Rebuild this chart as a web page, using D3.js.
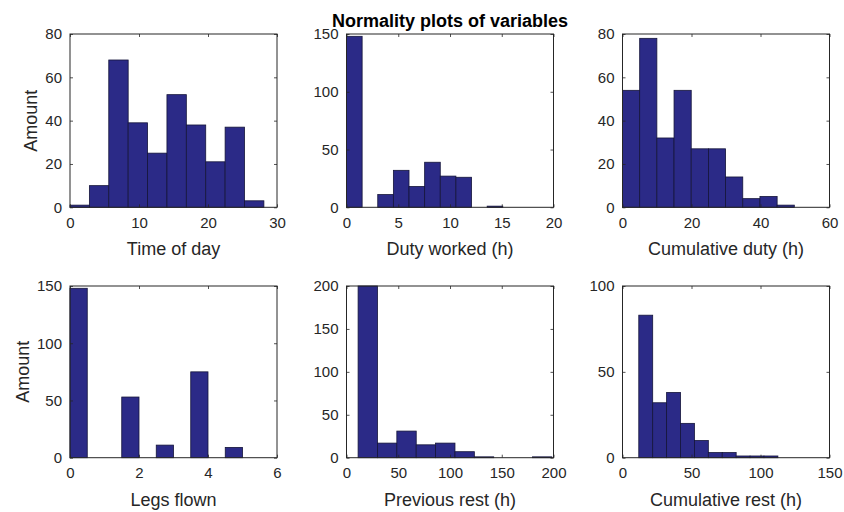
<!DOCTYPE html>
<html>
<head>
<meta charset="utf-8">
<script src="https://cdn.jsdelivr.net/npm/d3@7/dist/d3.min.js"></script>
<style>
  html, body { margin: 0; padding: 0; background: #ffffff; }
  svg { display: block; font-family: "Liberation Sans", Arial, Helvetica, sans-serif; }
</style>
</head>
<body>
<svg id="chart" width="844" height="512"></svg>
<script>
// ---- Histogram data: bin edges and counts per variable ----
const timeOfDayEdges   = [0, 2.81, 5.62, 8.43, 11.24, 14.05, 16.86, 19.67, 22.48, 25.29, 28.1];
const timeOfDayCounts  = [1, 10, 68, 39, 25, 52, 38, 21, 37, 3];

const dutyWorkedEdges  = [0, 1.51, 3.02, 4.53, 6.04, 7.55, 9.06, 10.57, 12.08, 13.59, 15.1];
const dutyWorkedCounts = [148, 0, 11, 32, 18, 39, 27, 26, 0, 1];

const cumDutyEdges     = [0, 4.98, 9.96, 14.94, 19.92, 24.9, 29.88, 34.86, 39.84, 44.82, 49.8];
const cumDutyCounts    = [54, 78, 32, 54, 27, 27, 14, 4, 5, 1];

const legsFlownEdges   = [0, 0.5, 1, 1.5, 2, 2.5, 3, 3.5, 4, 4.5, 5];
const legsFlownCounts  = [148, 0, 0, 53, 0, 11, 0, 75, 0, 9];

const prevRestEdges    = [11.2, 29.92, 48.64, 67.36, 86.08, 104.8, 123.52, 142.24, 160.96, 179.68, 198.4];
const prevRestCounts   = [200, 17, 31, 15, 17, 7, 1, 0, 0, 1];

const cumRestEdges     = [11.8, 21.88, 31.96, 42.04, 52.12, 62.2, 72.28, 82.36, 92.44, 102.52, 112.6];
const cumRestCounts    = [83, 32, 38, 20, 10, 3, 3, 1, 1, 1];

// ---- Axis ticks ----
const timeOfDayXTicks  = [0, 10, 20, 30];
const timeOfDayYTicks  = [0, 20, 40, 60, 80];
const dutyWorkedXTicks = [0, 5, 10, 15, 20];
const dutyWorkedYTicks = [0, 50, 100, 150];
const cumDutyXTicks    = [0, 20, 40, 60];
const cumDutyYTicks    = [0, 20, 40, 60, 80];
const legsFlownXTicks  = [0, 2, 4, 6];
const legsFlownYTicks  = [0, 50, 100, 150];
const prevRestXTicks   = [0, 50, 100, 150, 200];
const prevRestYTicks   = [0, 50, 100, 150, 200];
const cumRestXTicks    = [0, 50, 100, 150];
const cumRestYTicks    = [0, 50, 100];

const xLabels = ["Time of day", "Duty worked (h)", "Cumulative duty (h)",
                 "Legs flown", "Previous rest (h)", "Cumulative rest (h)"];
const yLabel = "Amount";
const chartTitle = "Normality plots of variables";

const panels = [
  { edges: timeOfDayEdges,  counts: timeOfDayCounts,  xTicks: timeOfDayXTicks,  yTicks: timeOfDayYTicks },
  { edges: dutyWorkedEdges, counts: dutyWorkedCounts, xTicks: dutyWorkedXTicks, yTicks: dutyWorkedYTicks },
  { edges: cumDutyEdges,    counts: cumDutyCounts,    xTicks: cumDutyXTicks,    yTicks: cumDutyYTicks },
  { edges: legsFlownEdges,  counts: legsFlownCounts,  xTicks: legsFlownXTicks,  yTicks: legsFlownYTicks },
  { edges: prevRestEdges,   counts: prevRestCounts,   xTicks: prevRestXTicks,   yTicks: prevRestYTicks },
  { edges: cumRestEdges,    counts: cumRestCounts,    xTicks: cumRestXTicks,    yTicks: cumRestYTicks }
].map((p, i) => Object.assign(p, { xLabel: xLabels[i], row: Math.floor(i / 3), col: i % 3 }));

// ---- Layout ----
const colLeft = [70, 346.5, 622.5];
const plotW = 207;
const rowTop = [34, 286];
const rowH = [173.3, 171.7];

const ink = "#262626";
const barFill = "#2b2a87";
const barEdge = "#15153a";
const tickLen = 3;

const svg = d3.select("#chart");

panels.forEach(p => {
  const w = plotW, h = rowH[p.row];
  const g = svg.append("g")
    .attr("transform", `translate(${colLeft[p.col]},${rowTop[p.row]})`);

  const x = d3.scaleLinear()
    .domain([p.xTicks[0], p.xTicks[p.xTicks.length - 1]])
    .range([0, w]);
  const y = d3.scaleLinear()
    .domain([p.yTicks[0], p.yTicks[p.yTicks.length - 1]])
    .range([h, 0]);

  // bars
  g.append("g").selectAll("rect")
    .data(p.counts)
    .join("rect")
      .attr("x", (d, i) => x(p.edges[i]))
      .attr("width", (d, i) => x(p.edges[i + 1]) - x(p.edges[i]))
      .attr("y", d => y(d))
      .attr("height", d => y(0) - y(d))
      .attr("fill", barFill)
      .attr("stroke", barEdge)
      .attr("stroke-width", 0.8);

  // inward ticks on all four sides
  const styleAxis = sel => {
    sel.select(".domain").remove();
    sel.selectAll("line").attr("stroke", ink).attr("stroke-width", 0.8);
    sel.selectAll("text").attr("fill", ink).attr("font-size", 15)
      .attr("font-family", null);
  };
  g.append("g").attr("transform", `translate(0,${h})`)
    .call(d3.axisBottom(x).tickValues(p.xTicks).tickSize(-tickLen).tickPadding(10).tickFormat(d3.format("d")))
    .call(styleAxis);
  g.append("g")
    .call(d3.axisTop(x).tickValues(p.xTicks).tickSize(-tickLen).tickFormat(""))
    .call(styleAxis);
  const yAxis = g.append("g")
    .call(d3.axisLeft(y).tickValues(p.yTicks).tickSize(-tickLen).tickPadding(8).tickFormat(d3.format("d")))
    .call(styleAxis);
  g.append("g").attr("transform", `translate(${w},0)`)
    .call(d3.axisRight(y).tickValues(p.yTicks).tickSize(-tickLen).tickFormat(""))
    .call(styleAxis);

  // axes box
  g.append("rect")
    .attr("width", w).attr("height", h)
    .attr("fill", "none").attr("stroke", ink).attr("stroke-width", 1);

  // x label
  g.append("text")
    .attr("x", w / 2).attr("y", h + 48)
    .attr("text-anchor", "middle")
    .attr("font-size", 18).attr("fill", ink)
    .text(p.xLabel);

  // y label on the first column
  if (p.col === 0) {
    const bb = yAxis.node().getBBox();
    g.append("text")
      .attr("transform", `translate(${bb.x - 8},${h / 2}) rotate(-90)`)
      .attr("text-anchor", "middle")
      .attr("font-size", 18).attr("fill", ink)
      .text(yLabel);
  }

  // overall title over the middle panel of the top row
  if (p.row === 0 && p.col === 1) {
    g.append("text")
      .attr("x", w / 2).attr("y", -7.5)
      .attr("text-anchor", "middle")
      .attr("font-size", 18).attr("font-weight", "bold").attr("fill", "#000")
      .text(chartTitle);
  }
});
</script>
</body>
</html>
